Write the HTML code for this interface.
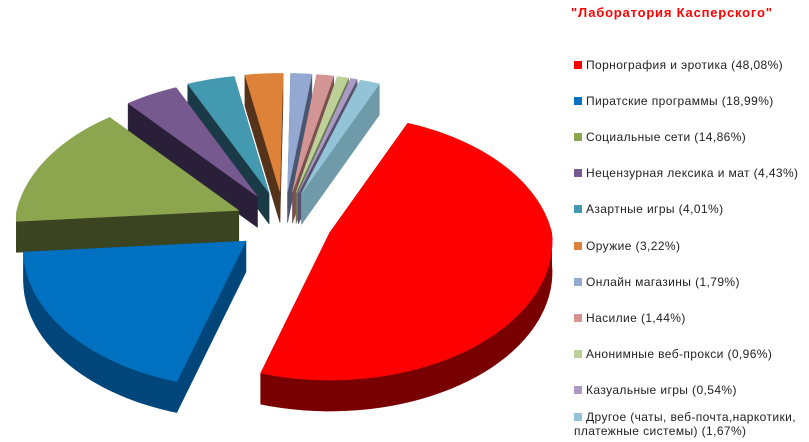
<!DOCTYPE html>
<html><head><meta charset="utf-8">
<style>
html,body{margin:0;padding:0;background:#fff;}
#wrap{position:relative;width:809px;height:442px;overflow:hidden;font-family:"Liberation Sans","DejaVu Sans",sans-serif;}
#title{position:absolute;left:571px;top:5px;color:#ff0000;font-weight:bold;font-size:13px;letter-spacing:0.8px;white-space:nowrap;}
.leg{position:absolute;left:574px;font-size:12px;letter-spacing:0.4px;color:#222;white-space:nowrap;line-height:18px;}
.leg i{display:inline-block;width:8px;height:8px;margin-right:4px;vertical-align:0px;}
</style></head>
<body>
<div id="wrap">
<svg id="pie" width="809" height="442" style="position:absolute;left:0;top:0"></svg>
<div id="title">"Лаборатория Касперского"</div>
<div id="legend"></div>
</div>
<script>
const categories = ["Порнография  и эротика (48,08%)","Пиратские программы (18,99%)","Социальные сети (14,86%)","Нецензурная лексика и мат (4,43%)","Азартные игры (4,01%)","Оружие (3,22%)","Онлайн магазины (1,79%)","Насилие (1,44%)","Анонимные веб-прокси (0,96%)","Казуальные игры (0,54%)","Другое (чаты, веб-почта,наркотики,<br>платежные системы) (1,67%)"];
const values = [48.08,18.99,14.86,4.43,4.01,3.22,1.79,1.44,0.96,0.54,1.67];
const topColors = ["#ff0000","#0070c0","#8ba64e","#76598f","#4399b0","#de823a","#94a9d2","#d39494","#bcd098","#a99bc3","#93c3d6"];
const sideColors = ["#780000","#00467a","#3b4421","#2a1f38","#1b3a47","#55331a","#4a5670","#7a5050","#6a7850","#5a5070","#6e9aaa"];

const NS="http://www.w3.org/2000/svg";
const svg=document.getElementById('pie');
const cx0=284, cy0=222, rx=222, ry=139, depth=31, explode=0.22, startDeg=-66;
const total=values.reduce((a,b)=>a+b,0);
function rf(t){const s=Math.sin(t);return s<0?1-0.15*(-s):1+0.06*s;}
function pt(c,t,dy){const r=rf(t);return [c[0]+rx*r*Math.cos(t), c[1]+ry*r*Math.sin(t)+(dy||0)];}
function arc(c,a1,a2,dy,steps){let p=[];for(let i=0;i<=steps;i++){const t=a1+(a2-a1)*i/steps;p.push(pt(c,t,dy));}return p;}
function poly(points,fill,name){const e=document.createElementNS(NS,'path');
 e.setAttribute('d','M'+points.map(p=>p[0].toFixed(1)+','+p[1].toFixed(1)).join('L')+'Z');
 e.setAttribute('fill',fill);e.setAttribute('stroke',fill);e.setAttribute('stroke-width','0.5');
 
 
 svg.appendChild(e);}
let slices=[];let acc=startDeg*Math.PI/180;
values.forEach((v,i)=>{const a1=acc,a2=acc+v/total*2*Math.PI;acc=a2;const m=(a1+a2)/2;
 const c=[cx0+explode*rx*Math.cos(m), cy0+explode*ry*Math.sin(m)];
 slices.push({i,a1,a2,m,c});});
slices.slice().sort((a,b)=>Math.sin(a.m)-Math.sin(b.m)).forEach(s=>{
 const c=s.c,top=topColors[s.i],side=sideColors[s.i];
 [s.a1,s.a2].forEach((a,k)=>{const p=pt(c,a);
   poly([c,p,[p[0],p[1]+depth],[c[0],c[1]+depth]],side,'slice-'+s.i+'-wall-'+k);});
 let lo=s.a1,hi=s.a2;
 for(let off=-2*Math.PI;off<=2*Math.PI;off+=2*Math.PI){
   const f1=Math.max(lo,off),f2=Math.min(hi,off+Math.PI);
   if(f2>f1){const up=arc(c,f1,f2,0,40),dn=arc(c,f2,f1,depth,40);
     poly(up.concat(dn),side,'slice-'+s.i+'-side');}
 }
 const steps=Math.max(4,Math.ceil((s.a2-s.a1)*40));
 poly([c].concat(arc(c,s.a1,s.a2,0,steps)),top,'slice-'+s.i+'-top');
});
const leg=document.getElementById('legend');
categories.forEach((t,i)=>{const d=document.createElement('div');d.className='leg';
 const last=i===categories.length-1;
 d.style.top=(last?(56+i*36.1-7):(56+i*36.1))+'px';
 if(last)d.style.lineHeight='14px';
 d.innerHTML='<i style="background:'+topColors[i]+'"></i>'+t;
 
 
 leg.appendChild(d);});
</script>
</body></html>
